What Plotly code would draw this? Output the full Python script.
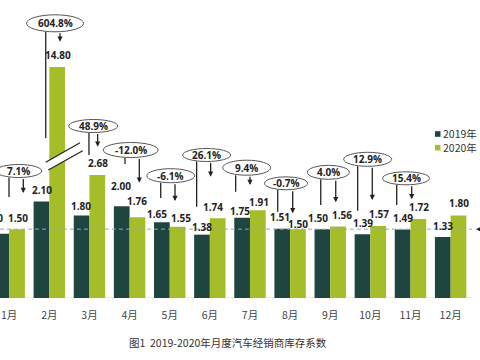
import plotly.graph_objects as go

# ---------------- data ----------------
months = ["1月", "2月", "3月", "4月", "5月", "6月", "7月", "8月", "9月", "10月", "11月", "12月"]
inv_2019 = [1.40, 2.10, 1.80, 2.00, 1.65, 1.38, 1.75, 1.51, 1.50, 1.39, 1.49, 1.33]
inv_2020 = [1.50, 14.80, 2.68, 1.76, 1.55, 1.74, 1.91, 1.50, 1.56, 1.57, 1.72, 1.80]
yoy_labels = ["7.1%", "604.8%", "48.9%", "-12.0%", "-6.1%", "26.1%", "9.4%",
              "-0.7%", "4.0%", "12.9%", "15.4%"]
warning_level = 1.5
series_names = ["2019年", "2020年"]
caption = "图1  2019-2020年月度汽车经销商库存系数"

# ---------------- styling / layout ----------------
C_2019 = "#1e4540"
C_2020 = "#a6bd2a"
W, H = 480, 360
M_T, M_B = 67, 62
PX_PER_UNIT = 45.9
PLOT_H = H - M_T - M_B
Y_TOP = PLOT_H / PX_PER_UNIT
PITCH = 40.13          # px per month group
FIRST_CENTER = 9.2     # px of first group centre (chart is cropped on the left)
X_RANGE = [-FIRST_CENTER / PITCH, (W - FIRST_CENTER) / PITCH]
HALF_BAR = PITCH * (1 - 0.217) / 4

# value-label nudges (px): horizontal offset and height above the bar top
lab19_dx = [-8.4, 0.2, -0.6, -1, -5.0, 0.3, -2.1, -2.2, -4, 0.8, 0.7, 0.6]
lab19_dy = [15.7, 11.6, 9.7, 20.5, 8, 8, 7, 11.4, 10.9, 11.5, 11.3, 11.3]
lab20_dx = [0.6, 0.9, 1, -0.7, 3.1, -4.4, 0.8, 0.3, 4.2, 0.7, 0.6, 0.5]
lab20_dy = [11.2, 12, 12.3, 16.2, 8.6, 11.4, 8, 5.2, 11.4, 11.6, 11.8, 12.1]

# callout geometry (pixel offsets from each month's group centre / baseline)
ell_dx = [9.5, 5.7, 3.8, 1.1, 1.0, -3.2, -3.3, -4.1, -1.9, -2.7, -4.5]
ell_h = [127, 274.7, 172, 148, 122.3, 143, 130.3, 114.7, 125.7, 138.7, 119.7]
ell_w = [46, 57, 49, 55, 48, 48, 48, 43, 42, 48, 47]
ell_ht = [13, 17, 13, 15, 14, 13, 15, 13, 14, 14, 13]
left_dx = [-0.2, -3.6, -0.5, -4.6, -9, -13.2, -14.3, -12.4, -9.5, -12.7, -13.8]
left_end = [101, 160, 143, 134, 100, 91.3, 106.3, 86.3, 93, 87.3, 93]
arrow_dx = [14.1, 10.7, 8.2, 9.7, 5.3, 0.8, 0, 2.6, 5.5, 1.9, 1.2]
arrow_end = [105, 256.3, 151.3, 115.3, 97, 121.3, 113, 84.7, 95.7, 98, 98.7]

NUM_FONT = dict(family="Open Sans", size=10, color="#222222")
LINE_C = "#222222"
x_idx = list(range(len(months)))

fig = go.Figure()
fig.add_trace(go.Bar(x=x_idx, y=inv_2019, name=series_names[0],
                     marker=dict(color=C_2019, line=dict(width=0)), showlegend=False))
fig.add_trace(go.Bar(x=x_idx, y=inv_2020, name=series_names[1],
                     marker=dict(color=C_2020, line=dict(width=0)), showlegend=False))

shapes = []
annotations = []


def px_shape(kind, i, **kw):
    """Shape anchored at month i (x) and the baseline (paper y=0), sized in pixels."""
    d = dict(type=kind, xref="x", yref="paper", xsizemode="pixel", ysizemode="pixel",
             xanchor=i, yanchor=0)
    d.update(kw)
    return d


# baseline and warning line
shapes.append(dict(type="line", xref="paper", yref="y", x0=0, x1=472 / W, y0=0, y1=0,
                   line=dict(color="#e2e6ea", width=1.5), layer="below"))
shapes.append(dict(type="line", xref="paper", yref="y", x0=0, x1=472 / W,
                   y0=warning_level, y1=warning_level,
                   line=dict(color="#8fa9c2", width=1, dash="4px,3px")))
annotations.append(dict(xref="paper", yref="y", x=476 / W, y=warning_level, text="",
                        showarrow=True, arrowhead=2, arrowsize=0.9, arrowwidth=1.3,
                        arrowcolor=LINE_C, ax=20, ay=0))

# axis-break marks on the clipped February 2020 bar
feb = months.index("2月")
shapes.append(px_shape("path", feb, path="M -3.6 135.7 L 30.7 155.3 L 33.4 147.3 L -1 128 Z",
                       fillcolor="white", line=dict(width=0)))
shapes.append(px_shape("line", feb, x0=-3.6, y0=135.7, x1=30.7, y1=155.3,
                       line=dict(color=LINE_C, width=1.2)))
shapes.append(px_shape("line", feb, x0=-1, y0=128, x1=33.4, y1=147.3,
                       line=dict(color=LINE_C, width=1.2)))

# value labels
for i in x_idx:
    for vals, side, ddx, ddy in ((inv_2019, -1, lab19_dx, lab19_dy),
                                 (inv_2020, 1, lab20_dx, lab20_dy)):
        v = vals[i]
        annotations.append(dict(x=i, y=min(v, Y_TOP * 0.999), xref="x", yref="y",
                                xshift=side * HALF_BAR + ddx[i], yshift=ddy[i],
                                yanchor="middle", text=f"<b>{v:.2f}</b>",
                                showarrow=False, font=NUM_FONT))

# year-on-year callouts
for i, lab in enumerate(yoy_labels):
    bottom = ell_h[i] - ell_ht[i] / 2
    shapes.append(px_shape("line", i, x0=left_dx[i], x1=left_dx[i], y0=bottom, y1=left_end[i],
                           line=dict(color=LINE_C, width=1.3)))
    shapes.append(px_shape("circle", i,
                           x0=ell_dx[i] - ell_w[i] / 2, x1=ell_dx[i] + ell_w[i] / 2,
                           y0=ell_h[i] - ell_ht[i] / 2, y1=ell_h[i] + ell_ht[i] / 2,
                           fillcolor="white", line=dict(color="#555555", width=1)))
    annotations.append(dict(x=i, y=0, xref="x", yref="y", xshift=ell_dx[i], yshift=ell_h[i],
                            yanchor="middle", text=f"<b>{lab}</b>", showarrow=False,
                            font=NUM_FONT))
    annotations.append(dict(x=i, y=0, xref="x", yref="y", xshift=arrow_dx[i],
                            yshift=arrow_end[i], text="", showarrow=True,
                            arrowhead=2, arrowsize=0.8, arrowwidth=1.3, arrowcolor=LINE_C,
                            ax=0, ay=-(bottom - arrow_end[i]), axref="pixel", ayref="pixel"))

# manual legend (one text block, two swatches)
LEG_FS = 10.5
LEG_LINE = 1.3 * LEG_FS
LEG_TOP = 134
for k, col in enumerate([C_2019, C_2020]):
    yc = LEG_TOP + LEG_LINE * k
    shapes.append(dict(type="rect", xref="paper", yref="paper",
                       x0=435 / W, x1=440.5 / W,
                       y0=(H - M_B - yc - 2.8) / PLOT_H, y1=(H - M_B - yc + 2.8) / PLOT_H,
                       fillcolor=col, line=dict(width=0)))
annotations.append(dict(xref="paper", yref="paper", x=441 / W,
                        y=(H - M_B - (LEG_TOP + LEG_LINE / 2)) / PLOT_H,
                        xanchor="left", yanchor="middle", align="left",
                        text="<br>".join(series_names), showarrow=False,
                        font=dict(family="Noto Sans CJK SC", size=LEG_FS, color="#333")))

# caption
annotations.append(dict(xref="paper", yref="paper", x=227.5 / W, y=(H - M_B - 342) / PLOT_H,
                        xanchor="center", yanchor="middle", text=caption, showarrow=False,
                        font=dict(family="Noto Sans CJK SC", size=10.5, color="#333")))

fig.update_layout(
    width=W, height=H,
    margin=dict(l=0, r=0, t=M_T, b=M_B, pad=0),
    paper_bgcolor="white", plot_bgcolor="white",
    barmode="group", bargap=0.217, bargroupgap=0,
    showlegend=False,
    shapes=shapes, annotations=annotations,
    xaxis=dict(range=X_RANGE, tickvals=x_idx, ticktext=months, showgrid=False,
               zeroline=False, showline=False, ticks="", ticklabelstandoff=9,
               tickfont=dict(family="Noto Sans CJK SC", size=10.5, color="#444")),
    yaxis=dict(range=[0, Y_TOP], visible=False, showgrid=False, zeroline=False),
)

fig.write_html("out.html", config={"displayModeBar": False},
               post_script="document.body.style.margin='0';document.body.style.overflow='hidden';")
